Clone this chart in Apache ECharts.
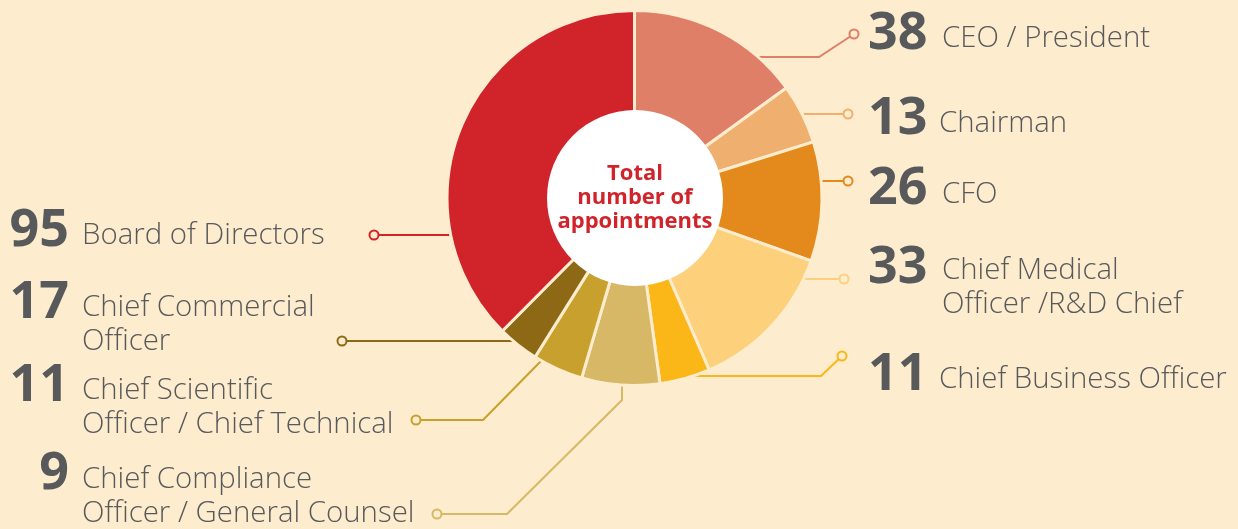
<!DOCTYPE html>
<html>
<head>
<meta charset="utf-8">
<script src="https://cdn.jsdelivr.net/npm/echarts@6/dist/echarts.min.js"></script>
<style>
  html, body { margin: 0; padding: 0; background: #fdecce; }
  #appointments-chart { width: 1238px; height: 529px; }
</style>
</head>
<body>
<div id="appointments-chart"></div>
<script>
// Slices clockwise from 12 o'clock
const roles = [
  'CEO / President',
  'Chairman',
  'CFO',
  'Chief Medical\nOfficer /R&D Chief',
  'Chief Business Officer',
  'Chief Compliance\nOfficer / General Counsel',
  'Chief Scientific\nOfficer / Chief Technical',
  'Chief Commercial\nOfficer',
  'Board of Directors'
];
// arc sizes as drawn in the picture
const sliceValues = [38, 13, 26, 33, 11, 17, 11, 9, 95];
// numbers as printed next to each label
const labelCounts = [38, 13, 26, 33, 11, 9, 11, 17, 95];
const centerTitle = 'Total\nnumber of\nappointments';

const colors = ['#e07f68', '#efb06f', '#e4891c', '#fdd17b', '#fbb718', '#d7b866', '#c8a02d', '#8e6915', '#d0232a'];
const bg = '#fdecce';
const textGray = '#58595b';

const cx = 634.5, cy = 198, R = 186;

// label placement: side, number anchor, text anchor (middle of first line)
const labelPos = [
  { side: 'r', nx: 868, ny: 34, tx: 942, ty: 39 },
  { side: 'r', nx: 868, ny: 119, tx: 939, ty: 124 },
  { side: 'r', nx: 868, ny: 189.5, tx: 942, ty: 194.5 },
  { side: 'r', nx: 868, ny: 268.5, tx: 942, ty: 271 },
  { side: 'r', nx: 868, ny: 375.5, tx: 939, ty: 379.5 },
  { side: 'l', nx: 69, ny: 474.5, tx: 82, ty: 480 },
  { side: 'l', nx: 69, ny: 386.5, tx: 82, ty: 390.5 },
  { side: 'l', nx: 69, ny: 303, tx: 82, ty: 308 },
  { side: 'l', nx: 69, ny: 231.5, tx: 82, ty: 235.5 }
];

// leader lines: end circle, elbows, then a point inside the pie giving the last direction
const leaders = [
  [[854, 34], [819, 57], [cx, 57]],
  [[848, 114], [cx, 114]],
  [[848, 181], [cx, 181]],
  [[844, 279], [cx, 279]],
  [[842, 356], [821, 376], [cx, 376]],
  [[437, 514], [507, 514], [622, 400], [622, cy]],
  [[416, 420], [483, 420], [603, 298]],
  [[342, 341], [cx, 341]],
  [[374, 235], [cx, 235]]
];

function edgePoint(p, t) {
  const r = R - 1.5;
  const dx = t[0] - p[0], dy = t[1] - p[1];
  const fx = p[0] - cx, fy = p[1] - cy;
  const a = dx * dx + dy * dy, b = 2 * (fx * dx + fy * dy), c = fx * fx + fy * fy - r * r;
  const s = (-b - Math.sqrt(b * b - 4 * a * c)) / (2 * a);
  return [p[0] + s * dx, p[1] + s * dy];
}

const elements = [];
leaders.forEach((pts, i) => {
  const path = pts.slice(0, -1);
  path.push(edgePoint(pts[pts.length - 2], pts[pts.length - 1]));
  elements.push({
    type: 'polyline', z: 1, silent: true,
    shape: { points: path },
    style: { stroke: colors[i], lineWidth: 2, fill: null }
  });
  elements.push({
    type: 'circle', z: 5, silent: true,
    shape: { cx: pts[0][0], cy: pts[0][1], r: 4.5 },
    style: { fill: bg, stroke: colors[i], lineWidth: 2 }
  });
});

labelPos.forEach((p, i) => {
  elements.push({
    type: 'text', z: 5, silent: true,
    style: {
      x: p.nx, y: p.ny, text: String(labelCounts[i]),
      fill: textGray,
      font: 'bold 52px "Open Sans", sans-serif',
      align: p.side === 'r' ? 'left' : 'right',
      verticalAlign: 'middle'
    }
  });
  elements.push({
    type: 'text', z: 5, silent: true,
    style: {
      x: p.tx, y: p.ty - 17, text: roles[i],
      fill: textGray,
      font: '300 29.4px "Open Sans", sans-serif',
      lineHeight: 34,
      align: 'left',
      verticalAlign: 'top'
    }
  });
});

const chart = echarts.init(document.getElementById('appointments-chart'));

chart.setOption({
  backgroundColor: bg,
  animation: false,
  series: [
    {
      type: 'pie',
      silent: true,
      center: [cx, cy],
      radius: [80, R + 1.5],
      startAngle: 90,
      clockwise: true,
      label: { show: false },
      labelLine: { show: false },
      itemStyle: { borderColor: bg, borderWidth: 3 },
      emphasis: { disabled: true },
      data: roles.map((name, i) => ({
        name: name,
        value: sliceValues[i],
        itemStyle: { color: colors[i] }
      }))
    },
    {
      type: 'pie',
      silent: true,
      z: 3,
      center: [cx + 0.5, cy],
      radius: [0, 88],
      label: {
        show: true,
        position: 'center',
        formatter: centerTitle,
        color: '#d0232a',
        fontFamily: '"Open Sans", sans-serif',
        fontWeight: 'bold',
        fontSize: 22,
        lineHeight: 24,
        padding: [0, 0, 21, 0]
      },
      labelLine: { show: false },
      emphasis: { disabled: true },
      itemStyle: { color: '#ffffff' },
      data: [{ name: 'total', value: 1 }]
    }
  ],
  graphic: { elements: elements }
});

window.addEventListener('resize', () => chart.resize());
</script>
</body>
</html>
